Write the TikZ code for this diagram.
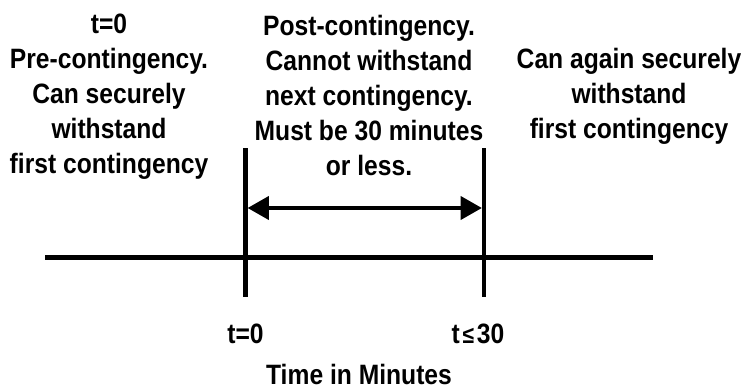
\documentclass[tikz,border=0pt]{standalone}
\usepackage{fontspec}
\setmainfont{Liberation Sans}[FakeStretch=0.88]
\usetikzlibrary{arrows.meta}

\begin{document}
\begin{tikzpicture}[x=0.75pt,y=-0.75pt]

      \useasboundingbox (0,0) rectangle (741,389);

      \begin{scope}[every node/.style={align=center, anchor=base, inner sep=0pt,
          font=\fontsize{21}{26.25}\selectfont\bfseries}]
        \node (pre)  at (109,173)  {t=0\\Pre-contingency.\\Can securely\\withstand\\first contingency};
        \node (post) at (369,175)  {Post-contingency.\\Cannot withstand\\next contingency.\\Must be 30 minutes\\or less.};
        \node (again) at (629,138) {Can again securely\\withstand\\first contingency};
        \node (tzero) at (245.5,343) {t=0};
        \node (tend)  at (478,343) {t\kern2pt{\fontsize{18}{18}\selectfont ≤}\kern2pt 30};
        \node (axis)  at (359,384) {Time in Minutes};
      \end{scope}

      \coordinate (l0) at (45,257.5);
      \coordinate (l1) at (653,257.5);
      \coordinate (s0) at (245.5,148);
      \coordinate (s1) at (245.5,297);
      \coordinate (e0) at (484,148);
      \coordinate (e1) at (484,297);
      \coordinate (a0) at (247.5,208);
      \coordinate (a1) at (482,208);

      \begin{scope}[line width=3.5pt]
        \draw (l0) -- (l1);
        \draw (s0) -- (s1);
        \draw (e0) -- (e1);
        \draw[{Triangle[length=16pt,width=17pt]}-{Triangle[length=16pt,width=17pt]}] (a0) -- (a1);
      \end{scope}

    \end{tikzpicture}
\end{document}
